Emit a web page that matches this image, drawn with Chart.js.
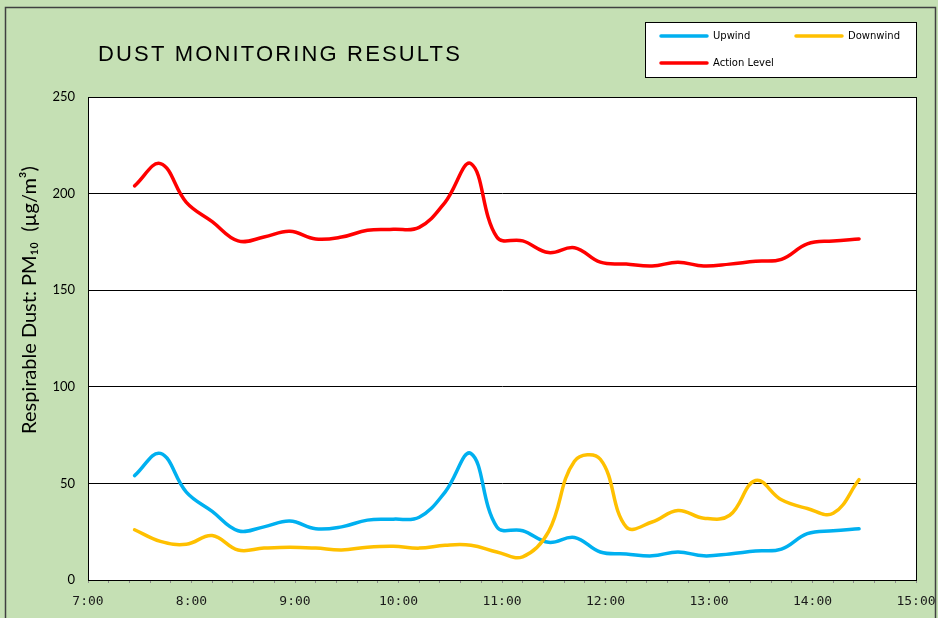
<!DOCTYPE html>
<html>
<head>
<meta charset="utf-8">
<script src="https://cdn.jsdelivr.net/npm/chart.js@4.4.1/dist/chart.umd.min.js"></script>
<style>
  html, body { margin: 0; padding: 0; background: #c5e0b4; }
  #wrap { width: 938px; height: 618px; }
</style>
</head>
<body>
<div id="wrap"><canvas id="dustChart" width="938" height="618"></canvas></div>
<script>
// sample times (every 15 min)
const times = ['7:27', '7:42', '7:57', '8:12', '8:27', '8:42', '8:57', '9:12', '9:27', '9:42',
               '9:57', '10:12', '10:27', '10:42', '10:57', '11:12', '11:27', '11:42', '11:57', '12:12',
               '12:27', '12:42', '12:57', '13:12', '13:27', '13:42', '13:57', '14:12', '14:27'];

const upwind = [54, 65.5, 45.5, 35.5, 25.5, 27.5, 30.5, 26.5, 27.5, 31,
                31.5, 32.5, 45.5, 65.5, 27.5, 25.5, 19.5, 22, 14.5, 13.5,
                12.5, 14.5, 12.5, 13.5, 15, 16, 24, 25.5, 26.5];

const downwind = [26, 20, 18.5, 23, 15.5, 16.5, 17, 16.5, 15.5, 17,
                  17.5, 16.5, 18, 18, 14.5, 12, 25, 61.5, 62.5, 27.5,
                  30, 36, 32, 33.5, 51.5, 41.5, 37, 34.5, 52];

const actionLevel = [204, 215.5, 195.5, 185.5, 175.5, 177.5, 180.5, 176.5, 177.5, 181,
                     181.5, 182.5, 195.5, 215.5, 177.5, 175.5, 169.5, 172, 164.5, 163.5,
                     162.5, 164.5, 162.5, 163.5, 165, 166, 174, 175.5, 176.5];

const xMin = 7, xMax = 15;      // hours
const yMin = 0, yMax = 250, yStep = 50;

const chartTitle = 'DUST MONITORING RESULTS';
const yTitle = 'Respirable Dust: PM\u2081\u2080  (\u00b5g/m\u00b3)';

const toHours = t => {
    const [h, m] = t.split(':').map(Number);
    return h + m / 60;
};
const points = arr => arr.map((v, i) => ({ x: toHours(times[i]), y: v }));

// green panel, frame and white plot area
const background = {
    id: 'background',
    beforeDraw(chart) {
        const { ctx, chartArea: a } = chart;
        ctx.save();
        ctx.fillStyle = '#c5e0b4';
        ctx.fillRect(0, 0, chart.width, chart.height);
        ctx.strokeStyle = '#404040';
        ctx.lineWidth = 1.5;
        ctx.strokeRect(5.5, 7.5, 930, 640);
        ctx.fillStyle = '#ffffff';
        ctx.fillRect(a.left, a.top, a.right - a.left, a.bottom - a.top);
        ctx.restore();
    },
    beforeDatasetsDraw(chart) {
        const { ctx, chartArea: a } = chart;
        ctx.save();
        ctx.strokeStyle = '#000';
        ctx.lineWidth = 1;
        ctx.strokeRect(Math.round(a.left) + 0.5, Math.round(a.top) + 0.5,
                       Math.round(a.right - a.left), Math.round(a.bottom - a.top));
        ctx.restore();
    }
};

// title, y axis title and boxed legend
const decorations = {
    id: 'decorations',
    afterDraw(chart) {
        const { ctx } = chart;
        ctx.save();

        // title with wide letter spacing
        ctx.fillStyle = '#000';
        ctx.font = '22px "Liberation Sans", Arial, sans-serif';
        ctx.textBaseline = 'alphabetic';
        ctx.textAlign = 'left';
        ctx.letterSpacing = '0px';
        const plain = ctx.measureText(chartTitle).width;
        ctx.letterSpacing = ((364 - plain) / chartTitle.length).toFixed(2) + 'px';
        ctx.fillText(chartTitle, 98, 61);
        ctx.letterSpacing = '0px';

        // y axis title
        ctx.save();
        ctx.translate(30, 300);
        ctx.rotate(-Math.PI / 2);
        ctx.font = '20px Lato, "Noto Sans", sans-serif';
        ctx.textAlign = 'center';
        ctx.textBaseline = 'middle';
        ctx.fillText(yTitle, 0, 0);
        ctx.restore();

        // legend box
        const box = { x: 645.5, y: 22.5, w: 271, h: 55 };
        ctx.fillStyle = '#fff';
        ctx.fillRect(box.x, box.y, box.w, box.h);
        ctx.strokeStyle = '#000';
        ctx.lineWidth = 1;
        ctx.strokeRect(box.x, box.y, box.w, box.h);

        const slots = [[661, 36], [796, 36], [661, 63]];
        ctx.font = '10px "DejaVu Sans", Verdana, sans-serif';
        ctx.textBaseline = 'middle';
        ctx.lineCap = 'round';
        chart.data.datasets.forEach((ds, i) => {
            const [lx, ly] = slots[i];
            ctx.strokeStyle = ds.borderColor;
            ctx.lineWidth = 3.5;
            ctx.beginPath();
            ctx.moveTo(lx, ly);
            ctx.lineTo(lx + 46, ly);
            ctx.stroke();
            ctx.fillStyle = '#000';
            ctx.fillText(ds.label, lx + 52, ly + 0.5);
        });
        ctx.restore();
    }
};

new Chart(document.getElementById('dustChart'), {
    type: 'line',
    data: {
        datasets: [
            { label: 'Upwind', data: points(upwind), borderColor: '#00b0f0', order: 3 },
            { label: 'Downwind', data: points(downwind), borderColor: '#ffc000', order: 2 },
            { label: 'Action Level', data: points(actionLevel), borderColor: '#ff0000', order: 1 }
        ]
    },
    options: {
        responsive: false,
        animation: false,
        layout: { padding: { left: 0, top: 97, right: 22, bottom: 0 } },
        elements: {
            line: { borderWidth: 3.5, tension: 0.4, borderCapStyle: 'round', fill: false },
            point: { radius: 0 }
        },
        plugins: { legend: { display: false }, tooltip: { enabled: false }, title: { display: false } },
        scales: {
            x: {
                type: 'linear',
                min: xMin,
                max: xMax,
                afterFit(scale) {
                    scale.height = 38;
                    scale.paddingLeft = 0;
                    scale.paddingRight = 0;
                },
                afterBuildTicks(scale) {
                    // minor marks every 12 minutes
                    const ticks = [];
                    for (let k = 0; k <= (xMax - xMin) * 5; k++) ticks.push({ value: xMin + k / 5 });
                    scale.ticks = ticks;
                },
                ticks: {
                    autoSkip: false,
                    maxRotation: 0,
                    padding: 11,
                    color: '#1a1a1a',
                    font: { family: '"DejaVu Sans Mono", monospace', size: 13 },
                    callback(v) {
                        const h = Math.round(v);
                        return Math.abs(v - h) < 1e-6 ? h + ':00' : '';
                    }
                },
                grid: { drawOnChartArea: false, drawTicks: true, tickLength: 3, color: '#8c8c8c' },
                border: { display: true, color: '#000' }
            },
            y: {
                min: yMin,
                max: yMax,
                afterFit(scale) {
                    scale.width = 88;
                    scale.paddingTop = 0;
                    scale.paddingBottom = 0;
                },
                ticks: {
                    stepSize: yStep,
                    padding: 13,
                    color: '#000',
                    font: { family: 'Lato, "Noto Sans", sans-serif', size: 13 }
                },
                grid: { color: '#000', lineWidth: 1, drawTicks: false },
                border: { display: true, color: '#000' }
            }
        }
    },
    plugins: [background, decorations]
});
</script>
</body>
</html>
